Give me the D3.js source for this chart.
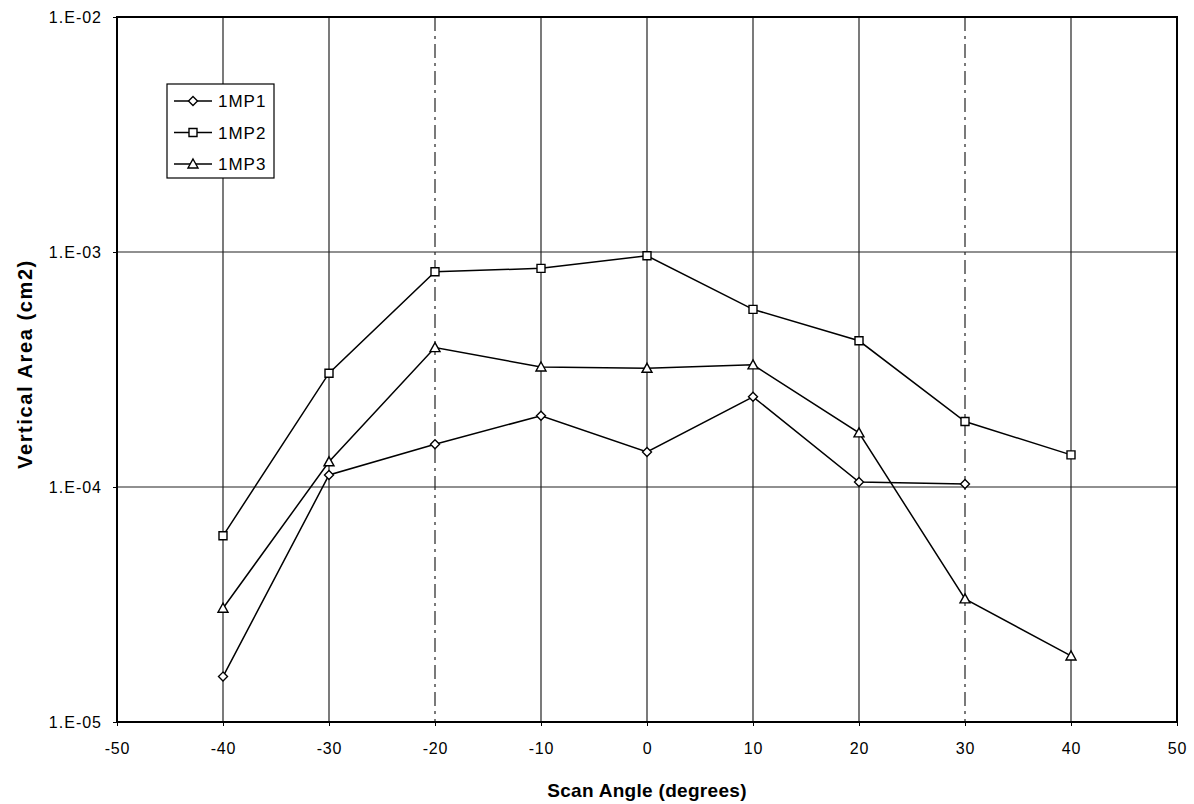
<!DOCTYPE html>
<html><head><meta charset="utf-8">
<script src="https://cdn.jsdelivr.net/npm/d3@7"></script>
<style>body{margin:0;background:#fff;}svg{display:block;}</style>
</head><body>
<svg id="chart" width="1194" height="804"></svg>
<script>
const angles = [-40, -30, -20, -10, 0, 10, 20, 30, 40];
const mp1 = [1.56e-5, 1.125e-4, 1.52e-4, 2.01e-4, 1.41e-4, 2.42e-4, 1.05e-4, 1.03e-4, null];
const mp2 = [6.2e-5, 3.05e-4, 8.24e-4, 8.52e-4, 9.64e-4, 5.70e-4, 4.19e-4, 1.90e-4, 1.37e-4];
const mp3 = [3.05e-5, 1.28e-4, 3.92e-4, 3.24e-4, 3.2e-4, 3.31e-4, 1.70e-4, 3.34e-5, 1.91e-5];
const seriesNames = ["1MP1", "1MP2", "1MP3"];
const xTicks = [-50, -40, -30, -20, -10, 0, 10, 20, 30, 40, 50];
const yTicks = [1e-5, 1e-4, 1e-3, 1e-2];
const yTickLabels = ["1.E-05", "1.E-04", "1.E-03", "1.E-02"];

const svg = d3.select("#chart");
const L = 117, R = 1177, T = 17, B = 722;
const x = d3.scaleLinear().domain([-50, 50]).range([L, R]);
const y = d3.scaleLog().domain([1e-5, 1e-2]).range([B, T]);
const font = "'Liberation Sans', Arial, sans-serif";

// gridlines
const dashed = new Set([-20, 30]);
svg.append("g").selectAll("line").data(xTicks.filter(d => d > -50 && d < 50)).join("line")
  .attr("x1", d => x(d)).attr("x2", d => x(d)).attr("y1", T).attr("y2", B)
  .attr("stroke", "#222").attr("stroke-width", 1.2)
  .attr("stroke-dasharray", d => dashed.has(d) ? "14,5,3,5" : null);
svg.append("g").selectAll("line").data([1e-4, 1e-3]).join("line")
  .attr("x1", L).attr("x2", R).attr("y1", d => y(d)).attr("y2", d => y(d))
  .attr("stroke", "#222").attr("stroke-width", 1.2);

// axes
const xAxis = d3.axisBottom(x).tickValues(xTicks).tickFormat(d => String(d)).tickSize(4).tickPadding(17);
const gx = svg.append("g").attr("transform", `translate(0,${B})`).call(xAxis);
gx.select(".domain").remove();
gx.selectAll("text").style("font-family", font).style("font-size", "16px").style("letter-spacing", "0.8px").attr("fill", "#000");
gx.selectAll("line").attr("stroke", "#000");

const yAxis = d3.axisLeft(y).tickValues(yTicks).tickFormat((d, i) => yTickLabels[i]).tickSize(4).tickPadding(11);
const gy = svg.append("g").attr("transform", `translate(${L},0)`).call(yAxis);
gy.select(".domain").remove();
gy.selectAll("text").style("font-family", font).style("font-size", "16px").style("letter-spacing", "1px").attr("fill", "#000");
gy.selectAll("line").attr("stroke", "#000");

// frame
svg.append("rect").attr("x", L).attr("y", T).attr("width", R - L).attr("height", B - T)
  .attr("fill", "none").attr("stroke", "#000").attr("stroke-width", 2);

// axis titles
svg.append("text").attr("x", (L + R) / 2).attr("y", 797).attr("text-anchor", "middle")
  .style("font-family", font).style("font-size", "19px").style("font-weight", "bold").style("letter-spacing", "0.3px")
  .text("Scan Angle (degrees)");
svg.append("text").attr("transform", `translate(32,${364}) rotate(-90)`).attr("text-anchor", "middle")
  .style("font-family", font).style("font-size", "20px").style("font-weight", "bold").style("letter-spacing", "1.6px")
  .text("Vertical Area (cm2)");

// markers
function marker(g, type, cx, cy) {
  let p;
  if (type === 0) p = `M${cx},${cy-4.5}L${cx+4.5},${cy}L${cx},${cy+4.5}L${cx-4.5},${cy}Z`;
  else if (type === 1) p = `M${cx-4},${cy-4}H${cx+4}V${cy+4}H${cx-4}Z`;
  else p = `M${cx},${cy-5}L${cx+5},${cy+4}L${cx-5},${cy+4}Z`;
  g.append("path").attr("d", p).attr("fill", "#fff").attr("stroke", "#000").attr("stroke-width", 1.4);
}

const data = [mp1, mp2, mp3];
const line = d3.line().defined(d => d[1] != null).x(d => x(d[0])).y(d => y(d[1]));
data.forEach((vals, si) => {
  const pts = angles.map((a, i) => [a, vals[i]]);
  svg.append("path").datum(pts).attr("d", line).attr("fill", "none")
    .attr("stroke", "#000").attr("stroke-width", 1.5);
  const g = svg.append("g");
  pts.filter(d => d[1] != null).forEach(d => marker(g, si, x(d[0]), y(d[1])));
});

// legend
const lg = svg.append("g");
lg.append("rect").attr("x", 167).attr("y", 84).attr("width", 107).attr("height", 94)
  .attr("fill", "#fff").attr("stroke", "#000").attr("stroke-width", 1.2);
seriesNames.forEach((n, i) => {
  const ly = 101 + i * 31.5;
  lg.append("line").attr("x1", 174).attr("x2", 212).attr("y1", ly).attr("y2", ly)
    .attr("stroke", "#000").attr("stroke-width", 1.5);
  marker(lg, i, 193, ly);
  lg.append("text").attr("x", 218).attr("y", ly + 6).style("font-family", font)
    .style("font-size", "17px").style("letter-spacing", "1px").text(n);
});
</script>
</body></html>
